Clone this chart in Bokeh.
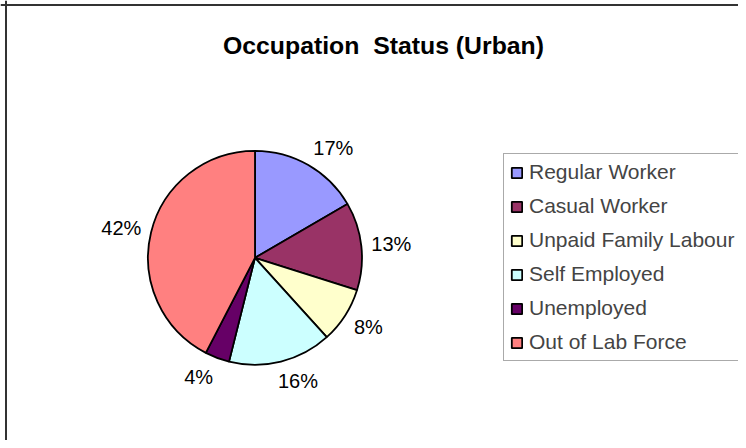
import math
from bokeh.plotting import figure
from bokeh.models import ColumnDataSource, Range1d, Legend, LegendItem, Span
from bokeh.embed import file_html
from bokeh.resources import INLINE
from bokeh.core.properties import value

# ---- data ----
title_text = "Occupation  Status (Urban)"
categories = ["Regular Worker", "Casual Worker", "Unpaid Family Labour",
              "Self Employed", "Unemployed", "Out of Lab Force"]
shares = [16.6, 13.3, 8.4, 15.6, 3.7, 42.4]
pct_labels = ["17%", "13%", "8%", "16%", "4%", "42%"]
colors = ["#9999FF", "#993366", "#FFFFCC", "#CCFFFF", "#660066", "#FF8080"]

# ---- geometry (data units == canvas pixels, y negated) ----
W, H = 738, 440
cx, cy, radius = 254.5, -257.3, 107.0
label_gap_r = 117.0

total = float(sum(shares))
cum = [0.0]
for s in shares:
    cum.append(cum[-1] + s)
a_hi = [math.radians(90 - 360 * c / total) for c in cum[:-1]]
a_lo = [math.radians(90 - 360 * c / total) for c in cum[1:]]
mid = [(a + b) / 2 for a, b in zip(a_hi, a_lo)]

def clamp(v):
    return max(-1.0, min(1.0, v))

# outside-end label placement: label box touches a ray point just outside the pie
lx, ly = [], []
for m, t in zip(mid, pct_labels):
    w, h = 10.0 * (len(t) + 1), 20.0
    px = cx + label_gap_r * math.cos(m)
    py = cy + label_gap_r * math.sin(m)
    lx.append(px + w / 2 * clamp(3 * math.cos(m)))
    ly.append(py + h / 2 * math.sin(m))

src = ColumnDataSource(dict(cat=categories, color=colors, start=a_lo, end=a_hi))
lab_src = ColumnDataSource(dict(x=lx, y=ly, text=pct_labels))

p = figure(width=W, height=H, x_range=Range1d(0, W), y_range=Range1d(-H, 0),
           output_backend="svg", toolbar_location=None, min_border=0)
p.axis.visible = False
p.grid.visible = False
p.outline_line_color = None
p.background_fill_color = "white"
p.border_fill_color = "white"

# chart border (left and top edges visible in reference)
p.add_layout(Span(location=5.5, dimension="height", line_color="#333333", line_width=2))
p.add_layout(Span(location=-4.5, dimension="width", line_color="#333333", line_width=2))

wr = p.wedge(x=cx, y=cy, radius=radius, start_angle="start", end_angle="end",
             fill_color="color", line_color="black", line_width=1.8, source=src)

p.text(x="x", y="y", text="text", source=lab_src, text_align="center",
       text_baseline="middle", text_font=value("Liberation Sans"),
       text_font_size="20px", text_color="black")

shown_title = title_text.replace("  ", "\u00a0 ")
p.text(x=[383], y=[-45], text=[shown_title], text_align="center",
       text_baseline="alphabetic", text_font=value("Liberation Sans"),
       text_font_size="24.8px", text_font_style="bold", text_color="black")

items = [LegendItem(label=categories[i], renderers=[wr], index=i) for i in range(len(categories))]
legend = Legend(items=items, location=(503, 79), orientation="vertical",
                glyph_width=13, glyph_height=13, label_height=24, label_width=230,
                label_text_font="Liberation Sans", label_text_font_size="21px",
                label_standoff=6, spacing=10, padding=6, margin=0,
                border_line_color="#555555", border_line_width=1.5,
                background_fill_color="white", background_fill_alpha=1.0)
p.add_layout(legend, "center")

open("out.html", "w").write(file_html(p, INLINE))
